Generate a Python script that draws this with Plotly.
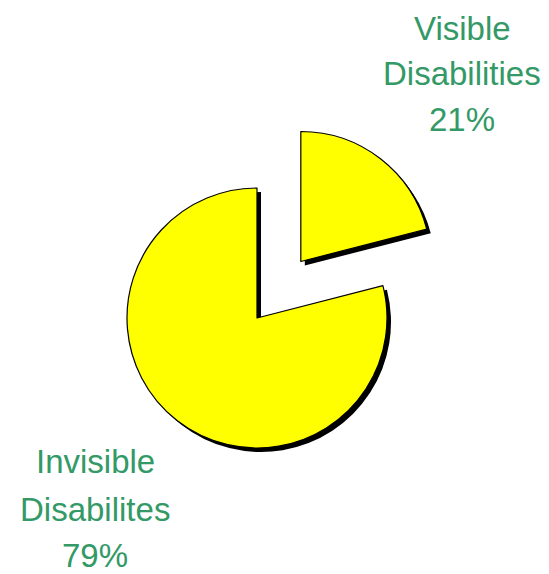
import plotly.graph_objects as go

labels = ["Visible Disabilities", "Invisible Disabilites"]
label_lines = [["Visible", "Disabilities"], ["Invisible", "Disabilites"]]
values = [21, 79]
pulls = [0.55, 0]

# page is offset by the default 8px body margin
OFF = 8
PW, PH = 549, 574
W, H = PW - OFF, PH - OFF
cx, cy, r = 257 - OFF, 318 - OFF, 130
maxpull = max(pulls)
half = r * (1 + maxpull)

def dom(dx=0, dy=0):
    x0 = (cx + dx - half) / W
    x1 = (cx + dx + half) / W
    y0 = (H - (cy + dy) - half) / H
    y1 = (H - (cy + dy) + half) / H
    return dict(x=[x0, x1], y=[y0, y1])

fig = go.Figure()
fig.add_trace(go.Pie(
    labels=labels, values=values, pull=pulls, sort=False, direction="clockwise",
    rotation=0, domain=dom(4, 4), textinfo="none", hoverinfo="skip",
    marker=dict(colors=["black", "black"], line=dict(width=0)),
    showlegend=False,
))
fig.add_trace(go.Pie(
    labels=labels, values=values, pull=pulls, sort=False, direction="clockwise",
    rotation=0, domain=dom(0, 0), textinfo="none", hoverinfo="skip",
    marker=dict(colors=["#FFFF00", "#FFFF00"], line=dict(color="black", width=1.2)),
    showlegend=False,
))

total = sum(values)
label_x = [462, 95]
label_y = [[28, 73, 120], [461, 509, 555]]
for lines, v, px, ys in zip(label_lines, values, label_x, label_y):
    all_lines = lines + [f"{round(100 * v / total)}%"]
    for txt, py in zip(all_lines, ys):
        fig.add_annotation(
            x=(px - OFF) / W, y=(H - (py - OFF)) / H, xref="paper", yref="paper",
            text=txt, showarrow=False, xanchor="center", yanchor="middle",
            font=dict(family="Liberation Sans, Arial, sans-serif", size=33, color="#339966"),
            align="center", borderpad=0,
        )

fig.update_layout(
    width=W, height=H, margin=dict(l=0, r=0, t=0, b=0),
    paper_bgcolor="white", plot_bgcolor="white",
)
fig.write_html("out.html")
